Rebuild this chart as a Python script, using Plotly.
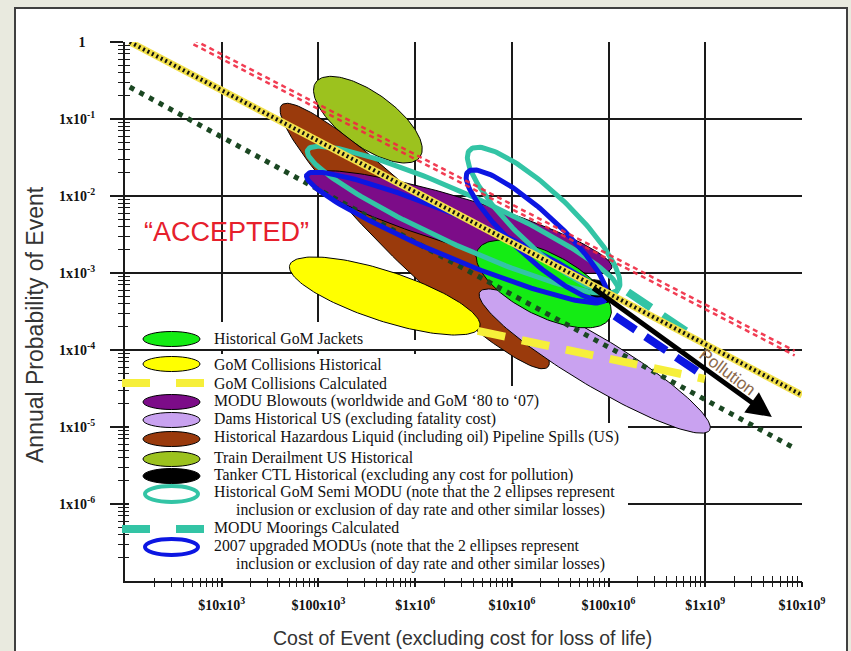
import numpy as np
import plotly.graph_objects as go

# ---------------- data ----------------
x_tick_values = [1e4, 1e5, 1e6, 1e7, 1e8, 1e9, 1e10]
x_tick_labels = ["$10x10<sup>3</sup>", "$100x10<sup>3</sup>", "$1x10<sup>6</sup>", "$10x10<sup>6</sup>",
                 "$100x10<sup>6</sup>", "$1x10<sup>9</sup>", "$10x10<sup>9</sup>"]
y_tick_values = [1, 1e-1, 1e-2, 1e-3, 1e-4, 1e-5, 1e-6]
y_tick_labels = ["1\u2007\u2009", "1x10<sup>-1</sup>", "1x10<sup>-2</sup>", "1x10<sup>-3</sup>",
                 "1x10<sup>-4</sup>", "1x10<sup>-5</sup>", "1x10<sup>-6</sup>"]

# filled ellipse regions: cost/probability at both ends of the long axis, width ratio
region_names = ["Train Derailment US Historical",
                "Historical Hazardous Liquid Pipeline Spills (US)",
                "GoM Collisions Historical",
                "MODU Blowouts",
                "Dams Historical US",
                "Historical GoM Jackets",
                "Tanker CTL Historical"]
region_cost_a = [9.4e4, 4.17e4, 5.05e4, 7.74e4, 4.66e6, 4.44e6, 6.1e7]
region_prob_a = [0.30, 0.152, 1.27e-3, 0.0182, 5.67e-4, 1.99e-3, 7.6e-4]
region_cost_b = [1.12e6, 2.35e7, 4.66e6, 1.08e8, 1.11e9, 1.03e8, 1.08e8]
region_prob_b = [0.032, 6.0e-5, 1.99e-4, 1.16e-3, 9.1e-6, 2.6e-4, 4.46e-4]
region_width = [0.42, 0.16, 0.25, 0.15, 0.18, 0.42, 0.6]

# outline-only ellipses (two per series)
ring_names = ["Historical GoM Semi MODU (a)", "2007 upgraded MODUs (a)",
              "Historical GoM Semi MODU (b)", "2007 upgraded MODUs (b)"]
ring_cost_a = [7.74e4, 7.57e4, 3.67e6, 3.5e6]
ring_prob_a = [0.0396, 0.0187, 0.0396, 0.0205]
ring_cost_b = [1.24e8, 9.2e7, 1.24e8, 9.2e7]
ring_prob_b = [6.0e-4, 4.46e-4, 6.0e-4, 4.73e-4]
ring_width = [0.15, 0.13, 0.27, 0.24]

# straight reference / calculated lines
line_names = ["Lower bound", "Upper bound", "Pollution bound",
              "GoM Collisions Calculated", "MODU Moorings Calculated", "2007 upgraded MODUs calculated"]
line_cost_start = [1.12e3, 1.12e3, 5.1e3, 4.44e6, 1.58e8, 1.16e8]
line_prob_start = [0.26, 1.0, 1.0, 1.77e-4, 5.67e-4, 2.77e-4]
line_cost_end = [8.4e9, 1.0e10, 8.4e9, 9.9e8, 7.2e8, 8.8e8]
line_prob_end = [5.3e-6, 2.6e-5, 9.1e-5, 4.2e-5, 1.57e-4, 5.0e-5]

# tanker arrow (to pollution)
arrow_cost = [6.7e7, 4.88e9]
arrow_prob = [6.6e-4, 1.35e-5]

legend_labels = ["Historical GoM Jackets",
                 "GoM Collisions Historical",
                 "GoM Collisions Calculated",
                 "MODU Blowouts (worldwide and GoM \u201880 to \u201807)",
                 "Dams Historical US (excluding fatality cost)",
                 "Historical Hazardous Liquid (including oil) Pipeline Spills (US)",
                 "Train Derailment US Historical",
                 "Tanker CTL Historical (excluding any cost for pollution)",
                 "Historical GoM Semi MODU (note that the 2 ellipses represent",
                 "MODU Moorings Calculated",
                 "2007 upgraded MODUs (note that the 2 ellipses represent"]
legend_continuation = "inclusion or exclusion of day rate and other similar losses)"

# ---------------- styling ----------------
SERIF = "Liberation Serif, Times New Roman, serif"
SANS = "Liberation Sans, Arial, sans-serif"
BG = "#e9eadf"
C_OLIVE, C_BROWN, C_YELLOW, C_PURPLE = "#9cc21e", "#9a3a0c", "#ffff00", "#7c0c88"
C_LAV, C_GREEN, C_BLACK = "#c9a2f0", "#14ec14", "#000000"
C_TEAL, C_BLUE = "#33c4a5", "#0c16e2"
region_colors = [C_OLIVE, C_BROWN, C_YELLOW, C_PURPLE, C_LAV, C_GREEN, C_BLACK]
ring_colors = [C_TEAL, C_BLUE, C_TEAL, C_BLUE]

SX, SY = 96.7, 77.0  # display pixels per decade (x, y) -> ellipses look right on screen


def ellipse(ca, pa, cb, pb, w, n=160):
    u1, v1 = np.log10(ca) * SX, np.log10(pa) * SY
    u2, v2 = np.log10(cb) * SX, np.log10(pb) * SY
    cu, cv = (u1 + u2) / 2, (v1 + v2) / 2
    a = np.hypot(u2 - u1, v2 - v1) / 2
    b = a * w
    ang = np.arctan2(v2 - v1, u2 - u1)
    t = np.linspace(0, 2 * np.pi, n)
    u = cu + a * np.cos(t) * np.cos(ang) - b * np.sin(t) * np.sin(ang)
    v = cv + a * np.cos(t) * np.sin(ang) + b * np.sin(t) * np.cos(ang)
    return 10 ** (u / SX), 10 ** (v / SY)


fig = go.Figure()

# filled regions
for i in range(len(region_names)):
    xs, ys = ellipse(region_cost_a[i], region_prob_a[i], region_cost_b[i], region_prob_b[i], region_width[i])
    fig.add_trace(go.Scatter(x=xs, y=ys, mode="lines", fill="toself", fillcolor=region_colors[i],
                             line=dict(color="black", width=1), name=region_names[i], hoverinfo="name"))

# dotted lower bound
fig.add_trace(go.Scatter(x=[line_cost_start[0], line_cost_end[0]], y=[line_prob_start[0], line_prob_end[0]],
                         mode="lines", line=dict(color="#1b4722", width=5, dash="5px,6px"), name=line_names[0]))

# outline ellipses
for i in range(len(ring_names)):
    xs, ys = ellipse(ring_cost_a[i], ring_prob_a[i], ring_cost_b[i], ring_prob_b[i], ring_width[i])
    fig.add_trace(go.Scatter(x=xs, y=ys, mode="lines", line=dict(color=ring_colors[i], width=5),
                             name=ring_names[i], hoverinfo="name"))

# calculated dashed lines
dash_styles = {3: ("#f6ef3a", 8, "28px,17px"), 4: (C_TEAL, 8, "28px,14px"), 5: (C_BLUE, 8, "25px,12px")}
for i, (col, wd, ds) in dash_styles.items():
    fig.add_trace(go.Scatter(x=[line_cost_start[i], line_cost_end[i]], y=[line_prob_start[i], line_prob_end[i]],
                             mode="lines", line=dict(color=col, width=wd, dash=ds), name=line_names[i]))

# hatched yellow/black upper bound
fig.add_trace(go.Scatter(x=[line_cost_start[1], line_cost_end[1]], y=[line_prob_start[1], line_prob_end[1]],
                         mode="lines", line=dict(color="#f2e04a", width=7), name=line_names[1]))
fig.add_trace(go.Scatter(x=[line_cost_start[1], line_cost_end[1]], y=[line_prob_start[1], line_prob_end[1]],
                         mode="lines", line=dict(color="#111111", width=4, dash="2px,3px"),
                         name=line_names[1], showlegend=False))

# red double dashed pollution bound
for off in (10 ** 0.03, 10 ** -0.03):
    fig.add_trace(go.Scatter(x=[line_cost_start[2], line_cost_end[2]],
                             y=[line_prob_start[2] * off, line_prob_end[2] * off],
                             mode="lines", line=dict(color="rgba(240,40,64,0.9)", width=2.5, dash="5px,4px"),
                             name=line_names[2]))

# helper trace for overlay axes (crossing ticks)
fig.add_trace(go.Scatter(x=[None], y=[None], xaxis="x2", yaxis="y2", showlegend=False, hoverinfo="skip"))

# ---------------- layout ----------------
L, R, T, B = 125, 49, 42, 70
PW, PH = 851 - L - R, 651 - T - B


def dx(px):
    return (px - L) / PW


def dy(py):
    return (651 - B - py) / PH


minor_x = [k * 10 ** e for e in range(3, 10) for k in range(2, 10)]
minor_y = [k * 10.0 ** e for e in range(-7, 0) for k in range(2, 10)]
AX = "#1a1a1a"

fig.update_layout(
    width=851, height=651, margin=dict(l=L, r=R, t=T, b=B, autoexpand=False),
    paper_bgcolor=BG, plot_bgcolor="white", showlegend=False,
    xaxis=dict(type="log", range=[3, 10], tickmode="array", tickvals=x_tick_values, ticktext=x_tick_labels,
               showgrid=True, gridcolor=AX, gridwidth=1.5, showline=True, linecolor=AX, linewidth=2,
               ticks="inside", ticklen=10, tickwidth=1.5, tickcolor=AX,
               minor=dict(tickvals=minor_x, ticks="inside", ticklen=5, tickwidth=1, tickcolor=AX, showgrid=False),
               tickfont=dict(family=SERIF, size=14, color="#111", weight="bold"),
               ticklabelstandoff=10, zeroline=False, automargin=False),
    xaxis2=dict(type="log", range=[3, 10], overlaying="x", side="bottom", anchor="y",
                tickmode="array", tickvals=x_tick_values, showticklabels=False,
                ticks="outside", ticklen=5, tickwidth=1.5, tickcolor=AX,
                minor=dict(tickvals=minor_x, ticks="outside", ticklen=5, tickwidth=1, tickcolor=AX, showgrid=False),
                showgrid=False, showline=False, zeroline=False, automargin=False),
    yaxis=dict(type="log", range=[-7, 0], tickmode="array", tickvals=y_tick_values, ticktext=y_tick_labels,
               showgrid=True, gridcolor=AX, gridwidth=1.5, showline=True, linecolor=AX, linewidth=2,
               ticks="outside", ticklen=13, tickwidth=1.5, tickcolor=AX,
               minor=dict(tickvals=minor_y, ticks="outside", ticklen=5, tickwidth=1, tickcolor=AX, showgrid=False),
               tickfont=dict(family=SERIF, size=14, color="#111", weight="bold"),
               ticklabelstandoff=12, zeroline=False, automargin=False),
    yaxis2=dict(type="log", range=[-7, 0], overlaying="y", side="left", anchor="x",
                tickmode="array", tickvals=y_tick_values, showticklabels=False,
                ticks="inside", ticklen=5, tickwidth=1.5, tickcolor=AX,
                minor=dict(tickvals=minor_y, ticks="inside", ticklen=5, tickwidth=1, tickcolor=AX, showgrid=False),
                showgrid=False, showline=False, zeroline=False, automargin=False),
)

shapes = []
# white panel with dark border
shapes.append(dict(type="rect", xref="paper", yref="paper", x0=dx(15), x1=dx(847), y0=dy(720), y1=dy(8),
                   fillcolor="white", line=dict(color="#404040", width=2), layer="below"))


def path(points):
    return "M " + " L ".join(f"{dx(p[0]):.4f},{dy(p[1]):.4f}" for p in points) + " Z"


# white legend background hiding gridlines
box_a = [(128, 322), (330, 322), (330, 340), (432, 340), (432, 349), (128, 349)]
box_b = [(129, 354), (482, 354), (482, 386), (562, 386), (562, 423), (628, 423), (628, 578), (129, 578)]
for bx in (box_a, box_b):
    shapes.append(dict(type="path", xref="paper", yref="paper", path=path(bx),
                       fillcolor="white", line=dict(width=0), layer="above"))

# legend symbols
legend_kinds = [("fill", C_GREEN), ("fill", C_YELLOW), ("dash", "#f6ef3a"), ("fill", C_PURPLE), ("fill", C_LAV),
                ("fill", C_BROWN), ("fill", C_OLIVE), ("fill", C_BLACK), ("ring", C_TEAL), ("dash", C_TEAL),
                ("ring", C_BLUE)]
legend_y = [339, 364, 383, 402, 420, 439, 459, 476, 494, 529, 547]
for (kind, col), cy in zip(legend_kinds, legend_y):
    if kind == "fill":
        shapes.append(dict(type="circle", xref="paper", yref="paper", x0=dx(143), x1=dx(200),
                           y0=dy(cy + 7.5), y1=dy(cy - 7.5), fillcolor=col, line=dict(color="black", width=1)))
    elif kind == "ring":
        shapes.append(dict(type="circle", xref="paper", yref="paper", x0=dx(145), x1=dx(198),
                           y0=dy(cy + 8), y1=dy(cy - 8), fillcolor="white", line=dict(color=col, width=4)))
    else:
        for a, b in ((122, 150), (176, 204)):
            shapes.append(dict(type="line", xref="paper", yref="paper", x0=dx(a), x1=dx(b),
                               y0=dy(cy), y1=dy(cy), line=dict(color=col, width=8)))

annotations = []
lt_y = [338, 364, 383, 401, 419, 437, 457, 475, 492, 528, 546]
for txt, yy in zip(legend_labels, lt_y):
    annotations.append(dict(xref="paper", yref="paper", x=dx(212), y=dy(yy), xanchor="left", yanchor="middle",
                            text=txt, showarrow=False, font=dict(family=SERIF, size=15.8, color="#111")))
for yy in (510, 564):
    annotations.append(dict(xref="paper", yref="paper", x=dx(234), y=dy(yy), xanchor="left", yanchor="middle",
                            text=legend_continuation, showarrow=False,
                            font=dict(family=SERIF, size=15.8, color="#111")))

# arrow
annotations.append(dict(x=np.log10(arrow_cost[1]), y=np.log10(arrow_prob[1]),
                        ax=np.log10(arrow_cost[0]), ay=np.log10(arrow_prob[0]),
                        xref="x", yref="y", axref="x", ayref="y", text="", showarrow=True,
                        arrowhead=2, arrowsize=1, arrowwidth=5, arrowcolor="black"))
annotations.append(dict(x=9.233, y=-4.286, xref="x", yref="y", text="Pollution", showarrow=False,
                        xanchor="center", yanchor="middle",
                        textangle=37, font=dict(family=SANS, size=17, color="#8c6a4c")))
annotations.append(dict(x=4.052, y=-2.468, xref="x", yref="y", text="\u201cACCEPTED\u201d", showarrow=False,
                        xanchor="center", yanchor="middle",
                        font=dict(family=SANS, size=27, color="#e6202c")))
# axis titles
annotations.append(dict(xref="paper", yref="paper", x=dx(35), y=dy(325), text="Annual Probability of Event",
                        xanchor="center", yanchor="middle",
                        textangle=-90, showarrow=False, font=dict(family=SANS, size=23, color="#333")))
annotations.append(dict(xref="paper", yref="paper", x=dx(462), y=dy(638),
                        xanchor="center", yanchor="middle",
                        text="Cost of Event (excluding cost for loss of life)",
                        showarrow=False, font=dict(family=SANS, size=19.5, color="#333")))

fig.update_layout(shapes=shapes, annotations=annotations)
fig.write_html("out.html", config={"displayModeBar": False},
               post_script="document.body.style.margin='0px';document.body.style.background='" + BG + "';")
